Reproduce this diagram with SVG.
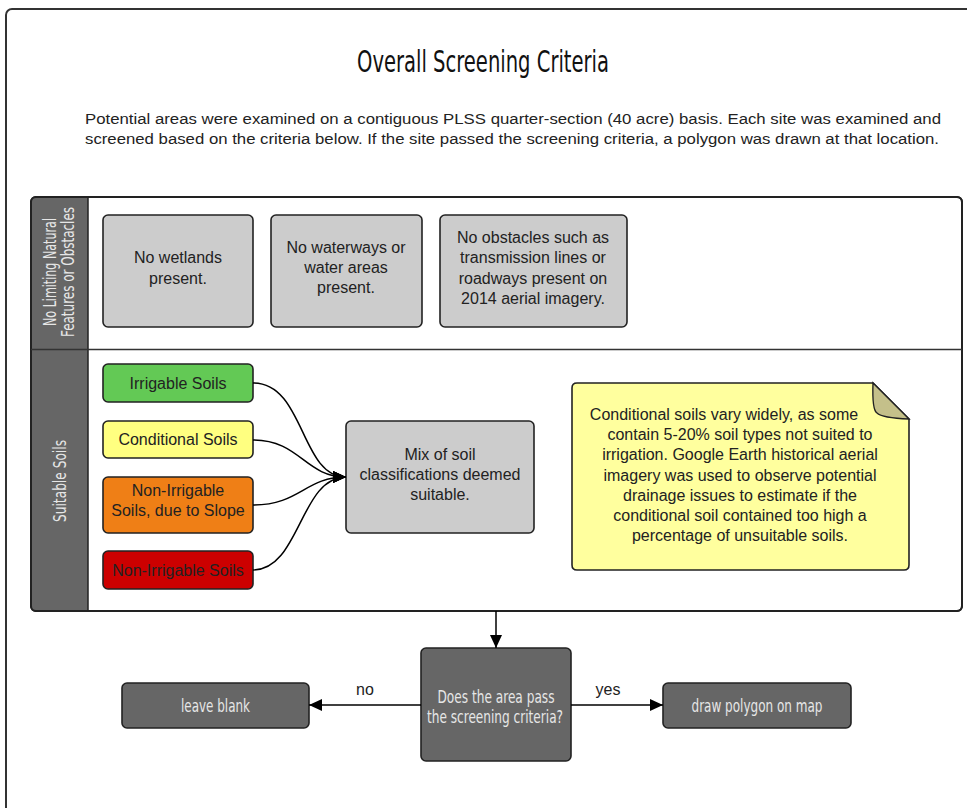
<svg xmlns="http://www.w3.org/2000/svg" width="967" height="808" viewBox="0 0 967 808">
<defs>
<marker id="arr" markerUnits="userSpaceOnUse" markerWidth="13" markerHeight="12" refX="13" refY="6" orient="auto">
<path d="M0,0 L13,6 L0,12 z" fill="#000"/>
</marker>
<style>
.t{font-family:"Liberation Sans",Arial,sans-serif;fill:#222;text-anchor:middle}
.c{font-family:"DejaVu Sans Condensed","DejaVu Sans",sans-serif;text-anchor:middle;font-stretch:condensed}
.box{fill:#cccccc;stroke:#222;stroke-width:1.6}
.dark{fill:#666666;stroke:#222;stroke-width:1.6}
.lt{fill:#e6e6e6}
.con{fill:none;stroke:#000;stroke-width:1.5}
</style>
</defs>
<rect width="967" height="808" fill="#fff"/>
<rect id="frame" x="6" y="9" width="980" height="820" rx="6" fill="#fff" stroke="#333" stroke-width="2"/>
<g id="title">
<text class="c" x="483" y="72" font-size="31" fill="#111" textLength="252" lengthAdjust="spacingAndGlyphs">Overall Screening Criteria</text>
</g>
<g id="intro">
<text class="t" x="513" y="124" font-size="15.5" textLength="856" lengthAdjust="spacingAndGlyphs">Potential areas were examined on a contiguous PLSS quarter-section (40 acre) basis. Each site was examined and</text>
<text class="t" x="512" y="143.5" font-size="15.5" textLength="854" lengthAdjust="spacingAndGlyphs">screened based on the criteria below. If the site passed the screening criteria, a polygon was drawn at that location.</text>
</g>
<g id="swimlanes">
<rect x="31" y="197" width="931" height="414" rx="5" fill="#fff" stroke="#222" stroke-width="2"/>
<path d="M36,197 L88,197 L88,611 L36,611 Q31,611 31,606 L31,202 Q31,197 36,197 z" fill="#666"/>
<rect x="31" y="197" width="931" height="414" rx="5" fill="none" stroke="#222" stroke-width="2"/>
<line x1="88" y1="197" x2="88" y2="611" stroke="#222" stroke-width="1.5"/>
<line x1="31" y1="349.5" x2="962" y2="349.5" stroke="#333" stroke-width="1.5"/>
<g id="lane1-label">
<text class="c lt" transform="translate(56,272) rotate(-90)" font-size="17" textLength="108" lengthAdjust="spacingAndGlyphs">No Limiting Natural</text>
<text class="c lt" transform="translate(74,272) rotate(-90)" font-size="17" textLength="130" lengthAdjust="spacingAndGlyphs">Features or Obstacles</text>
</g>
<g id="lane2-label">
<text class="c lt" transform="translate(66,481) rotate(-90)" font-size="17" textLength="82" lengthAdjust="spacingAndGlyphs">Suitable Soils</text>
</g>
</g>
<g id="no-wetlands">
<rect class="box" x="103" y="215" width="150" height="112" rx="5"/>
<text class="t" x="178" y="263" font-size="16">No wetlands</text>
<text class="t" x="178" y="284" font-size="16">present.</text>
</g>
<g id="no-waterways">
<rect class="box" x="271" y="215" width="151" height="112" rx="5"/>
<text class="t" x="346" y="253" font-size="16">No waterways or</text>
<text class="t" x="346" y="273" font-size="16">water areas</text>
<text class="t" x="346" y="293" font-size="16">present.</text>
</g>
<g id="no-obstacles">
<rect class="box" x="440" y="215" width="187" height="112" rx="5"/>
<text class="t" x="533" y="243" font-size="16">No obstacles such as</text>
<text class="t" x="533" y="263" font-size="16">transmission lines or</text>
<text class="t" x="533" y="284" font-size="16">roadways present on</text>
<text class="t" x="533" y="304" font-size="16">2014 aerial imagery.</text>
</g>
<g id="irrigable">
<rect x="103" y="364" width="150" height="38" rx="5" fill="#63c955" stroke="#222" stroke-width="1.6"/>
<text class="t" x="178" y="389" font-size="16" fill="#153015">Irrigable Soils</text>
</g>
<g id="conditional">
<rect x="103" y="421" width="150" height="37" rx="5" fill="#ffff80" stroke="#222" stroke-width="1.6"/>
<text class="t" x="178" y="445" font-size="16">Conditional Soils</text>
</g>
<g id="non-irrigable-slope">
<rect x="103" y="477" width="150" height="56" rx="5" fill="#ef7f16" stroke="#222" stroke-width="1.6"/>
<text class="t" x="178" y="496" font-size="16" fill="#3a1a00">Non-Irrigable</text>
<text class="t" x="178" y="516" font-size="16" fill="#3a1a00">Soils, due to Slope</text>
</g>
<g id="non-irrigable">
<rect x="103" y="551" width="150" height="38" rx="5" fill="#cc0000" stroke="#222" stroke-width="1.6"/>
<text class="t" x="178" y="576" font-size="16" fill="#3a0000">Non-Irrigable Soils</text>
</g>
<g id="mix">
<rect class="box" x="346" y="421" width="188" height="112" rx="5"/>
<text class="t" x="440" y="460" font-size="16">Mix of soil</text>
<text class="t" x="440" y="480" font-size="16">classifications deemed</text>
<text class="t" x="440" y="500" font-size="16">suitable.</text>
</g>
<g id="note">
<path d="M577,383 L873,383 L909,419 L909,565 Q909,570 904,570 L577,570 Q572,570 572,565 L572,388 Q572,383 577,383 z" fill="#ffff9e" stroke="#222" stroke-width="1.6"/>
<path d="M873,383 Q872,410 877,413 Q882,418 909,419 z" fill="#c4c08a" stroke="#222" stroke-width="1.4"/>
<text class="t" x="724" y="420" font-size="16">Conditional soils vary widely, as some</text>
<text class="t" x="740" y="440" font-size="16">contain 5-20% soil types not suited to</text>
<text class="t" x="740" y="460" font-size="16">irrigation. Google Earth historical aerial</text>
<text class="t" x="740" y="481" font-size="16">imagery was used to observe potential</text>
<text class="t" x="740" y="501" font-size="16">drainage issues to estimate if the</text>
<text class="t" x="740" y="521" font-size="16">conditional soil contained too high a</text>
<text class="t" x="740" y="541" font-size="16">percentage of unsuitable soils.</text>
</g>
<g id="decision">
<rect class="dark" x="421" y="648" width="150" height="113" rx="5"/>
<text class="c lt" x="496" y="703" font-size="17" textLength="117" lengthAdjust="spacingAndGlyphs">Does the area pass</text>
<text class="c lt" x="495" y="723" font-size="17" textLength="136" lengthAdjust="spacingAndGlyphs">the screening criteria?</text>
</g>
<g id="leave-blank">
<rect class="dark" x="122" y="683" width="187" height="45" rx="5"/>
<text class="c lt" x="215.5" y="712" font-size="17" textLength="69" lengthAdjust="spacingAndGlyphs">leave blank</text>
</g>
<g id="draw-polygon">
<rect class="dark" x="663" y="683" width="188" height="45" rx="5"/>
<text class="c lt" x="757" y="712" font-size="17" textLength="131" lengthAdjust="spacingAndGlyphs">draw polygon on map</text>
</g>
<g id="connectors">
<path class="con" d="M253,383 C305,383 300,477 346,477" marker-end="url(#arr)"/>
<path class="con" d="M253,440 C300,440 305,477 346,477" marker-end="url(#arr)"/>
<path class="con" d="M253,505 C300,505 305,477 346,477" marker-end="url(#arr)"/>
<path class="con" d="M253,570 C300,570 300,477 346,477" marker-end="url(#arr)"/>
<path class="con" d="M496,611 L496,648" marker-end="url(#arr)"/>
<path class="con" d="M421,705 L309,705" marker-end="url(#arr)"/>
<path class="con" d="M571,705 L663,705" marker-end="url(#arr)"/>
<text class="t" x="365" y="695" font-size="16" fill="#111">no</text>
<text class="t" x="608" y="695" font-size="16" fill="#111">yes</text>
</g>
</svg>
